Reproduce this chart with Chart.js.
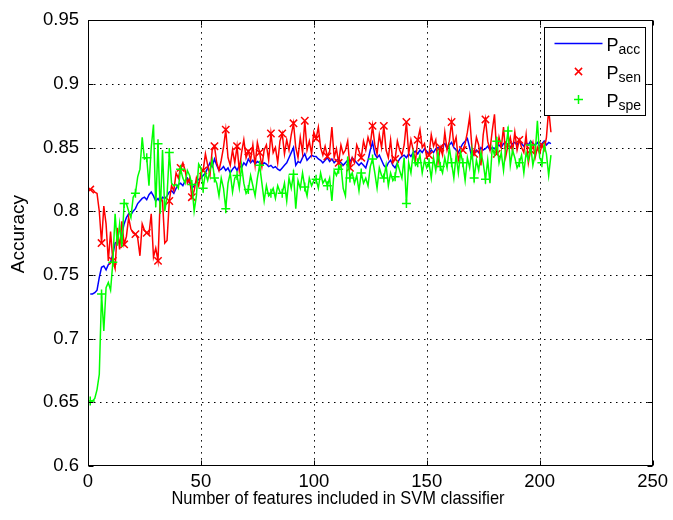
<!DOCTYPE html>
<html>
<head>
<meta charset="utf-8">
<script src="https://cdn.jsdelivr.net/npm/chart.js@4.4.1/dist/chart.umd.min.js"></script>
<style>
  html, body { margin: 0; padding: 0; background: #fff; }
  #wrap { width: 673px; height: 520px; }
</style>
</head>
<body>
<div id="wrap"><canvas id="chart" width="673" height="520"></canvas></div>
<script>
// Number of features used by the classifier (1 .. 205)
const featureCounts = Array.from({ length: 205 }, (_, i) => i + 1);

// Overall accuracy
const pAcc = [
  0.735, 0.735, 0.736, 0.738, 0.748, 0.756, 0.757, 0.754, 0.758, 0.760,
  0.766, 0.775, 0.776, 0.775, 0.782, 0.790, 0.795, 0.798, 0.797, 0.800,
  0.802, 0.806, 0.808, 0.810, 0.811, 0.809, 0.813, 0.815, 0.812, 0.808,
  0.810, 0.807, 0.811, 0.810, 0.812, 0.815, 0.816, 0.814, 0.818, 0.821,
  0.822, 0.820, 0.824, 0.826, 0.822, 0.818, 0.820, 0.823, 0.825, 0.826,
  0.828, 0.830, 0.834, 0.838, 0.835, 0.841, 0.836, 0.832, 0.833, 0.835,
  0.832, 0.834, 0.830, 0.833, 0.835, 0.832, 0.836, 0.834, 0.838, 0.836,
  0.841, 0.838, 0.840, 0.837, 0.839, 0.838, 0.836, 0.838, 0.837, 0.835,
  0.836, 0.834, 0.835, 0.833, 0.832, 0.834, 0.836, 0.838, 0.842, 0.846,
  0.850, 0.836, 0.839, 0.838, 0.842, 0.845, 0.840, 0.842, 0.844, 0.843,
  0.843, 0.841, 0.840, 0.838, 0.840, 0.842, 0.839, 0.841, 0.838, 0.840,
  0.841, 0.838, 0.836, 0.838, 0.840, 0.839, 0.842, 0.840, 0.838, 0.836,
  0.838, 0.836, 0.834, 0.840, 0.848, 0.854, 0.845, 0.842, 0.844, 0.840,
  0.836, 0.834, 0.838, 0.840, 0.836, 0.834, 0.838, 0.841, 0.843, 0.844,
  0.842, 0.845, 0.843, 0.846, 0.847, 0.845, 0.848, 0.846, 0.849, 0.847,
  0.845, 0.848, 0.846, 0.849, 0.850, 0.848, 0.852, 0.853, 0.849, 0.852,
  0.854, 0.850, 0.848, 0.846, 0.850, 0.853, 0.855, 0.857, 0.850, 0.842,
  0.846, 0.848, 0.846, 0.850, 0.848, 0.849, 0.851, 0.848, 0.850, 0.849,
  0.851, 0.852, 0.850, 0.853, 0.854, 0.852, 0.850, 0.853, 0.854, 0.852,
  0.855, 0.853, 0.851, 0.854, 0.852, 0.855, 0.853, 0.852, 0.854, 0.851,
  0.853, 0.855, 0.852, 0.854, 0.853
];

// Sensitivity
const pSen = [
  0.817, 0.817, 0.815, 0.814, 0.800, 0.775, 0.804, 0.790, 0.761, 0.784,
  0.761, 0.755, 0.787, 0.770, 0.792, 0.774, 0.780, 0.795, 0.786, 0.783,
  0.782, 0.779, 0.765, 0.790, 0.785, 0.783, 0.782, 0.798, 0.764, 0.771,
  0.761, 0.811, 0.808, 0.775, 0.777, 0.808, 0.820, 0.816, 0.830, 0.826,
  0.834, 0.838, 0.832, 0.822, 0.826, 0.811, 0.816, 0.826, 0.820, 0.830,
  0.832, 0.845, 0.836, 0.828, 0.848, 0.851, 0.838, 0.832, 0.840, 0.850,
  0.864, 0.842, 0.836, 0.848, 0.838, 0.851, 0.832, 0.846, 0.856, 0.842,
  0.847, 0.840, 0.852, 0.836, 0.854, 0.846, 0.835, 0.848, 0.852, 0.840,
  0.861, 0.846, 0.850, 0.838, 0.855, 0.861, 0.845, 0.856, 0.848, 0.860,
  0.869, 0.850, 0.842, 0.858, 0.846, 0.871, 0.848, 0.855, 0.845, 0.862,
  0.857, 0.866, 0.850, 0.844, 0.851, 0.843, 0.847, 0.866, 0.842, 0.849,
  0.838, 0.852, 0.845, 0.848, 0.855, 0.834, 0.842, 0.838, 0.852, 0.847,
  0.842, 0.855, 0.848, 0.858, 0.852, 0.867, 0.852, 0.845, 0.860, 0.850,
  0.867, 0.848, 0.842, 0.856, 0.838, 0.841, 0.855, 0.848, 0.844, 0.852,
  0.870, 0.845, 0.856, 0.848, 0.839, 0.856, 0.864, 0.850, 0.853, 0.842,
  0.844, 0.860, 0.851, 0.856, 0.838, 0.850, 0.844, 0.862, 0.848, 0.855,
  0.870, 0.852, 0.858, 0.840, 0.846, 0.848, 0.853, 0.862, 0.874, 0.850,
  0.845, 0.858, 0.852, 0.836, 0.860, 0.872, 0.855, 0.848, 0.863, 0.876,
  0.845, 0.858, 0.850, 0.866, 0.843, 0.852, 0.858, 0.847, 0.862, 0.848,
  0.856, 0.850, 0.846, 0.860, 0.838, 0.848, 0.854, 0.842, 0.850, 0.845,
  0.852, 0.848, 0.858, 0.880, 0.862
];

// Specificity
const pSpe = [
  0.651, 0.651, 0.653, 0.660, 0.672, 0.735, 0.706, 0.740, 0.744, 0.738,
  0.760, 0.798, 0.773, 0.790, 0.772, 0.806, 0.806, 0.800, 0.795, 0.811,
  0.814, 0.827, 0.833, 0.858, 0.841, 0.842, 0.820, 0.850, 0.868, 0.803,
  0.853, 0.798, 0.848, 0.800, 0.812, 0.846, 0.822, 0.820, 0.821, 0.818,
  0.833, 0.826, 0.822, 0.832, 0.828, 0.821, 0.800, 0.812, 0.837, 0.834,
  0.818, 0.830, 0.824, 0.832, 0.840, 0.826, 0.822, 0.812, 0.826, 0.818,
  0.802, 0.822, 0.830, 0.815, 0.826, 0.828, 0.818, 0.836, 0.822, 0.814,
  0.817, 0.828, 0.820, 0.812, 0.826, 0.836, 0.822, 0.808, 0.820, 0.812,
  0.814, 0.818, 0.810, 0.820, 0.815, 0.814, 0.822, 0.808, 0.826, 0.818,
  0.829, 0.802, 0.824, 0.818, 0.830, 0.819, 0.812, 0.826, 0.820, 0.824,
  0.825, 0.818, 0.830, 0.822, 0.825, 0.820, 0.826, 0.808, 0.832, 0.828,
  0.833, 0.836, 0.818, 0.812, 0.843, 0.826, 0.830, 0.822, 0.828, 0.816,
  0.830, 0.822, 0.826, 0.820, 0.835, 0.841, 0.830, 0.818, 0.834, 0.828,
  0.826, 0.836, 0.820, 0.830, 0.824, 0.827, 0.838, 0.832, 0.826, 0.842,
  0.806, 0.838, 0.830, 0.846, 0.836, 0.838, 0.844, 0.830, 0.840, 0.834,
  0.838, 0.826, 0.842, 0.832, 0.846, 0.835, 0.830, 0.842, 0.834, 0.850,
  0.838, 0.826, 0.844, 0.830, 0.846, 0.838, 0.824, 0.842, 0.834, 0.848,
  0.826, 0.840, 0.832, 0.846, 0.838, 0.825, 0.840, 0.822, 0.850, 0.844,
  0.855, 0.838, 0.846, 0.832, 0.850, 0.863, 0.836, 0.848, 0.842, 0.834,
  0.838, 0.844, 0.830, 0.846, 0.840, 0.852, 0.836, 0.845, 0.871, 0.842,
  0.838, 0.852, 0.845, 0.828, 0.844
];

const seriesNames = ['acc', 'sen', 'spe'];
const xTickValues = [0, 50, 100, 150, 200, 250];
const yTickValues = [0.6, 0.65, 0.7, 0.75, 0.8, 0.85, 0.9, 0.95];
const xTitle = 'Number of features included in SVM classifier';
const yTitle = 'Accuracy';

const FONT = '"Liberation Sans", Arial, Helvetica, sans-serif';
const markerEvery = 5;

function points(values) {
  return values.map((v, i) => ({ x: featureCounts[i], y: v }));
}

// Dotted grid, solid box with inward ticks, axis titles and an in-plot legend
const matlabAxes = {
  id: 'matlabAxes',
  beforeDatasetsDraw(chart) {
    const { ctx, chartArea: a, scales: { x, y } } = chart;
    ctx.save();
    ctx.strokeStyle = '#000';
    ctx.lineWidth = 1;
    ctx.setLineDash([1.5, 4.5]);
    xTickValues.forEach(v => {
      if (v <= x.min || v >= x.max) return;
      const px = Math.round(x.getPixelForValue(v)) + 0.5;
      ctx.beginPath(); ctx.moveTo(px, a.top); ctx.lineTo(px, a.bottom); ctx.stroke();
    });
    yTickValues.forEach(v => {
      if (v <= y.min + 1e-9 || v >= y.max - 1e-9) return;
      const py = Math.round(y.getPixelForValue(v)) + 0.5;
      ctx.beginPath(); ctx.moveTo(a.left, py); ctx.lineTo(a.right, py); ctx.stroke();
    });
    ctx.restore();
  },
  afterDatasetsDraw(chart) {
    const { ctx, chartArea: a, scales: { x, y } } = chart;
    ctx.save();
    ctx.setLineDash([]);
    ctx.strokeStyle = '#000';
    ctx.lineWidth = 1;
    const L = Math.round(a.left) + 0.5, R = Math.round(a.right) - 0.5;
    const T = Math.round(a.top) + 0.5, B = Math.round(a.bottom) - 0.5;
    ctx.strokeRect(L, T, R - L, B - T);
    const tl = 5;
    ctx.beginPath();
    xTickValues.forEach(v => {
      const px = Math.round(x.getPixelForValue(v)) + 0.5;
      ctx.moveTo(px, B); ctx.lineTo(px, B - tl);
      ctx.moveTo(px, T); ctx.lineTo(px, T + tl);
    });
    yTickValues.forEach(v => {
      const py = Math.round(y.getPixelForValue(v)) + 0.5;
      ctx.moveTo(L, py); ctx.lineTo(L + tl, py);
      ctx.moveTo(R, py); ctx.lineTo(R - tl, py);
    });
    ctx.stroke();

    // axis titles (x title set in a narrow face)
    ctx.fillStyle = '#000';
    ctx.textAlign = 'center';
    ctx.textBaseline = 'middle';
    ctx.save();
    ctx.translate(a.left + 250, 499);
    ctx.scale(0.89, 1);
    ctx.font = '18.5px ' + FONT;
    ctx.fillText(xTitle, 0, 0);
    ctx.restore();
    ctx.save();
    ctx.translate(19, a.top + 214);
    ctx.rotate(-Math.PI / 2);
    ctx.font = '19px ' + FONT;
    ctx.fillText(yTitle, 0, 0);
    ctx.restore();

    // legend box
    const bw = 101, bh = 88;
    const bx = Math.round(a.right - 109) + 0.5, by = Math.round(a.top + 7) + 0.5;
    ctx.fillStyle = '#fff';
    ctx.fillRect(bx, by, bw, bh);
    ctx.strokeStyle = '#000';
    ctx.lineWidth = 1;
    ctx.strokeRect(bx, by, bw, bh);

    const ds = chart.data.datasets;
    const rows = [by + 16, by + 44, by + 72];
    // line sample for accuracy
    ctx.strokeStyle = ds[0].borderColor;
    ctx.lineWidth = ds[0].borderWidth;
    ctx.beginPath(); ctx.moveTo(bx + 10, rows[0]); ctx.lineTo(bx + 58, rows[0]); ctx.stroke();
    // cross markers
    const mx = bx + 34;
    ctx.lineWidth = 1.5;
    ctx.strokeStyle = ds[1].borderColor;
    let r = 3.6;
    ctx.beginPath();
    ctx.moveTo(mx - r, rows[1] - r); ctx.lineTo(mx + r, rows[1] + r);
    ctx.moveTo(mx - r, rows[1] + r); ctx.lineTo(mx + r, rows[1] - r);
    ctx.stroke();
    ctx.strokeStyle = ds[2].borderColor;
    r = 4.5;
    ctx.beginPath();
    ctx.moveTo(mx - r, rows[2]); ctx.lineTo(mx + r, rows[2]);
    ctx.moveTo(mx, rows[2] - r); ctx.lineTo(mx, rows[2] + r);
    ctx.stroke();

    // labels with subscripts
    ctx.fillStyle = '#000';
    ctx.textBaseline = 'alphabetic';
    ctx.textAlign = 'left';
    seriesNames.forEach((s, i) => {
      const base = rows[i] + 7;
      ctx.font = '18px ' + FONT;
      ctx.fillText('P', bx + 62, base);
      const w = ctx.measureText('P').width;
      ctx.font = '14px ' + FONT;
      ctx.fillText(s, bx + 62 + w, base + 3);
    });
    ctx.restore();
  }
};

new Chart(document.getElementById('chart'), {
  type: 'line',
  data: {
    datasets: [
      {
        label: 'P_acc',
        data: points(pAcc),
        borderColor: '#0000ff',
        borderWidth: 1.5,
        pointRadius: 0,
        order: 3
      },
      {
        label: 'P_sen',
        data: points(pSen),
        borderColor: '#ff0000',
        borderWidth: 1.5,
        pointStyle: 'crossRot',
        pointRadius: ctx => (ctx.dataIndex % markerEvery === 0 ? 5.2 : 0),
        pointBorderColor: '#ff0000',
        pointBorderWidth: 1.5,
        order: 2
      },
      {
        label: 'P_spe',
        data: points(pSpe),
        borderColor: '#00ff00',
        borderWidth: 1.5,
        pointStyle: 'cross',
        pointRadius: ctx => (ctx.dataIndex % markerEvery === 0 ? 4.5 : 0),
        pointBorderColor: '#00ff00',
        pointBorderWidth: 1.5,
        order: 1
      }
    ]
  },
  options: {
    responsive: false,
    animation: false,
    devicePixelRatio: 1,
    layout: { padding: { top: 19, right: 19, left: 0, bottom: 0 } },
    plugins: {
      legend: { display: false },
      tooltip: { enabled: false }
    },
    elements: { line: { tension: 0 } },
    scales: {
      x: {
        type: 'linear',
        min: 0,
        max: 250,
        grid: { display: false, drawTicks: false, tickLength: 0 },
        border: { display: false },
        afterBuildTicks: s => { s.ticks = xTickValues.map(v => ({ value: v })); },
        ticks: {
          color: '#000',
          padding: 5,
          maxRotation: 0,
          font: { family: FONT, size: 18.5 },
          callback: v => String(v)
        },
        title: { display: false },
        afterFit: s => { s.height = 54; }
      },
      y: {
        min: 0.6,
        max: 0.95,
        grid: { display: false, drawTicks: false, tickLength: 0 },
        border: { display: false },
        afterBuildTicks: s => { s.ticks = yTickValues.map(v => ({ value: v })); },
        ticks: {
          color: '#000',
          padding: 9,
          font: { family: FONT, size: 18.5 },
          callback: v => String(Math.round(v * 100) / 100)
        },
        title: { display: false },
        afterFit: s => { s.width = 88; }
      }
    }
  },
  plugins: [matlabAxes]
});
</script>
</body>
</html>
